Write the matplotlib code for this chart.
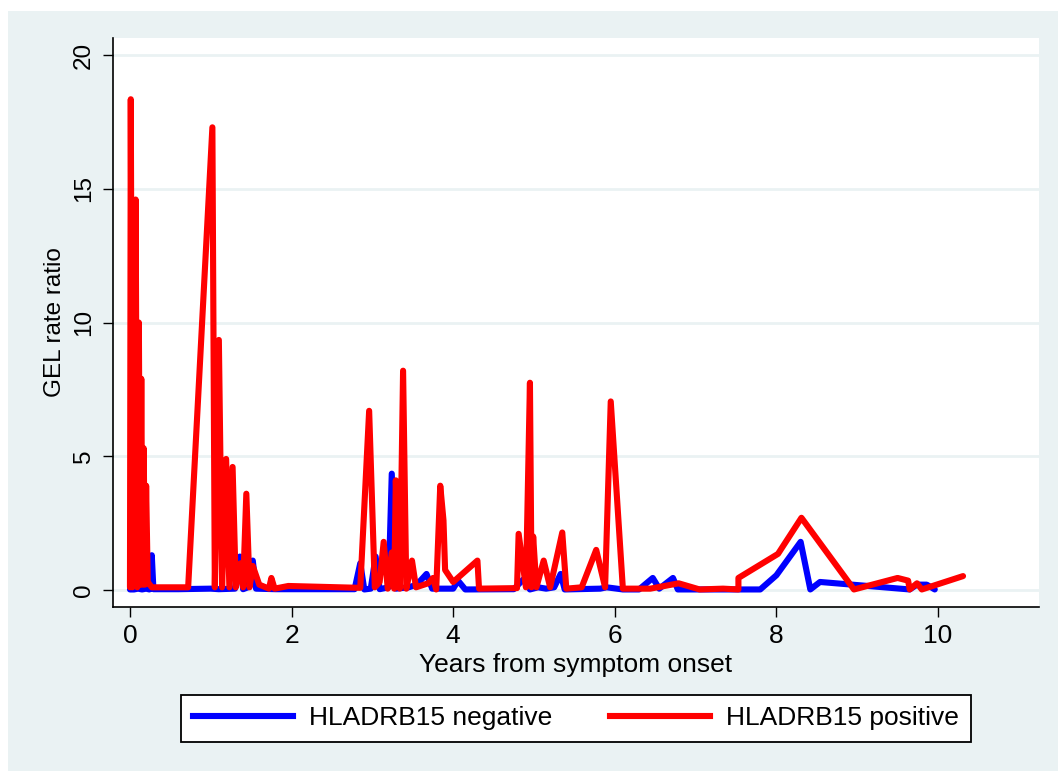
import matplotlib
matplotlib.use("Agg")
import matplotlib.pyplot as plt
from matplotlib.patches import Rectangle
from matplotlib.lines import Line2D

plt.rcParams['font.family'] = ['Liberation Sans', 'DejaVu Sans']

# GEL rate ratio over time, by HLA-DRB1*15 status
neg_years = [0.00, 0.05, 0.10, 0.15, 0.20, 0.24, 0.27, 0.29, 0.60, 1.00, 1.10, 1.30,
             1.36, 1.40, 1.46, 1.52, 1.56, 1.80, 2.78, 2.85, 2.90, 2.98, 3.04, 3.09,
             3.20, 3.24, 3.29, 3.45, 3.55, 3.67, 3.74, 4.00, 4.06, 4.15, 4.75, 4.87,
             4.95, 5.05, 5.15, 5.25, 5.33, 5.38, 5.82, 5.90, 6.10, 6.30, 6.47, 6.55,
             6.72, 6.78, 7.80, 8.00, 8.30, 8.42, 8.54, 9.65, 9.74, 9.86, 9.96]
neg_ratio = [0.02, 0.02, 0.05, 0.02, 0.05, 0.02, 1.30, 0.03, 0.03, 0.05, 0.03, 0.05,
             1.25, 0.03, 0.10, 1.10, 0.05, 0.03, 0.03, 1.00, 0.02, 0.05, 1.25, 0.03,
             0.10, 4.35, 0.05, 0.10, 0.20, 0.60, 0.05, 0.05, 0.35, 0.02, 0.03, 0.40,
             0.02, 0.10, 0.05, 0.10, 0.60, 0.02, 0.05, 0.10, 0.02, 0.02, 0.45, 0.05,
             0.45, 0.02, 0.02, 0.55, 1.80, 0.02, 0.30, 0.02, 0.20, 0.20, 0.02]

pos_years = [0.00, 0.01, 0.03, 0.07, 0.09, 0.11, 0.125, 0.14, 0.155, 0.17, 0.185, 0.20,
             0.22, 0.27, 0.72, 1.02, 1.05, 1.10, 1.14, 1.19, 1.23, 1.27, 1.31, 1.37,
             1.40, 1.44, 1.48, 1.52, 1.60, 1.72, 1.75, 1.79, 1.96, 2.85, 2.96, 3.03,
             3.09, 3.14, 3.19, 3.24, 3.27, 3.29, 3.34, 3.38, 3.42, 3.49, 3.54, 3.69,
             3.75, 3.79, 3.84, 3.88, 3.90, 4.00, 4.30, 4.32, 4.79, 4.81, 4.90, 4.95,
             4.97, 4.99, 5.03, 5.12, 5.20, 5.35, 5.40, 5.59, 5.77, 5.88, 5.95, 6.10,
             6.44, 6.79, 7.05, 7.34, 7.53, 7.53, 8.02, 8.31, 8.96, 9.50, 9.63, 9.65,
             9.74, 9.80, 10.31]
pos_ratio = [0.10, 18.35, 0.10, 14.60, 0.10, 10.00, 0.20, 7.90, 0.20, 5.30, 0.20, 3.90,
             0.30, 0.10, 0.10, 17.30, 0.10, 9.35, 0.10, 4.90, 0.10, 4.60, 0.10, 1.00,
             0.10, 3.60, 0.10, 0.90, 0.20, 0.05, 0.45, 0.05, 0.15, 0.08, 6.70, 0.10,
             0.30, 1.80, 0.05, 1.40, 0.05, 4.10, 0.05, 8.20, 0.05, 1.10, 0.10, 0.25,
             0.45, 0.02, 3.90, 2.60, 0.75, 0.30, 1.10, 0.05, 0.07, 2.10, 0.10, 7.75,
             0.10, 2.00, 0.10, 1.10, 0.10, 2.15, 0.05, 0.10, 1.50, 0.10, 7.05, 0.05,
             0.05, 0.25, 0.02, 0.05, 0.02, 0.45, 1.35, 2.70, 0.02, 0.45, 0.35, 0.02,
             0.25, 0.02, 0.52]

x_ticks = [0, 2, 4, 6, 8, 10]
y_ticks = [0, 5, 10, 15, 20]
series_labels = ["HLADRB15 negative", "HLADRB15 positive"]

W, H = 1058, 771
BG = "#EAF2F3"
FS_X = 19          # horizontal text (x ticks, x title, legend)
FS_Y = 17.5        # rotated text (y ticks, y title)

fig = plt.figure(figsize=(W / 100, H / 100), dpi=100, facecolor="white")
fig.patches.append(Rectangle((8 / W, 0), 1 - 8 / W, 1 - 11 / H, transform=fig.transFigure,
                             facecolor=BG, edgecolor="none", zorder=-10))

ax = fig.add_axes([113 / W, 1 - 607 / H, (1039 - 113) / W, (607 - 38) / H])
ax.set_facecolor("white")

lw = 4.4
ax.plot(neg_years, neg_ratio, color="#0000FF", lw=lw, solid_joinstyle="round",
        solid_capstyle="round", zorder=3)
ax.plot(pos_years, pos_ratio, color="#FF0000", lw=lw, solid_joinstyle="round",
        solid_capstyle="round", zorder=4)

ax.set_xlim(-0.21, 11.25)
ax.set_ylim(-0.636, 20.64)
ax.set_xticks(x_ticks)
ax.set_yticks(y_ticks)
ax.set_yticklabels([str(v) for v in y_ticks], rotation=90, va="center")
ax.grid(axis="y", color=BG, lw=2.0, zorder=0)
ax.set_axisbelow(True)

for s in ("top", "right"):
    ax.spines[s].set_visible(False)
for s in ("left", "bottom"):
    ax.spines[s].set_linewidth(1.2)
    ax.spines[s].set_color("black")

ax.tick_params(axis="both", direction="out", length=7, width=1, colors="black")
ax.tick_params(axis="x", pad=5, labelsize=FS_X)
ax.tick_params(axis="y", pad=6, labelsize=FS_Y)

ax.set_xlabel("Years from symptom onset", fontsize=FS_X, labelpad=4)
ax.set_ylabel("GEL rate ratio", fontsize=FS_Y, labelpad=5)

handles = [Line2D([], [], color="#0000FF", lw=lw), Line2D([], [], color="#FF0000", lw=lw)]
leg = fig.legend(handles, series_labels, loc="center",
                 bbox_to_anchor=((177 + 975) / 2 / W, 1 - (694 + 743) / 2 / H),
                 ncol=2, fontsize=FS_X, frameon=True, fancybox=False, shadow=False,
                 handlelength=3.8, handletextpad=0.6, columnspacing=2.2,
                 borderpad=0.45, borderaxespad=0)
leg.get_frame().set_edgecolor("black")
leg.get_frame().set_linewidth(1.3)
leg.get_frame().set_facecolor("white")
leg.get_frame().set_alpha(1)

fig.savefig("out.png", dpi=100, facecolor="white")
